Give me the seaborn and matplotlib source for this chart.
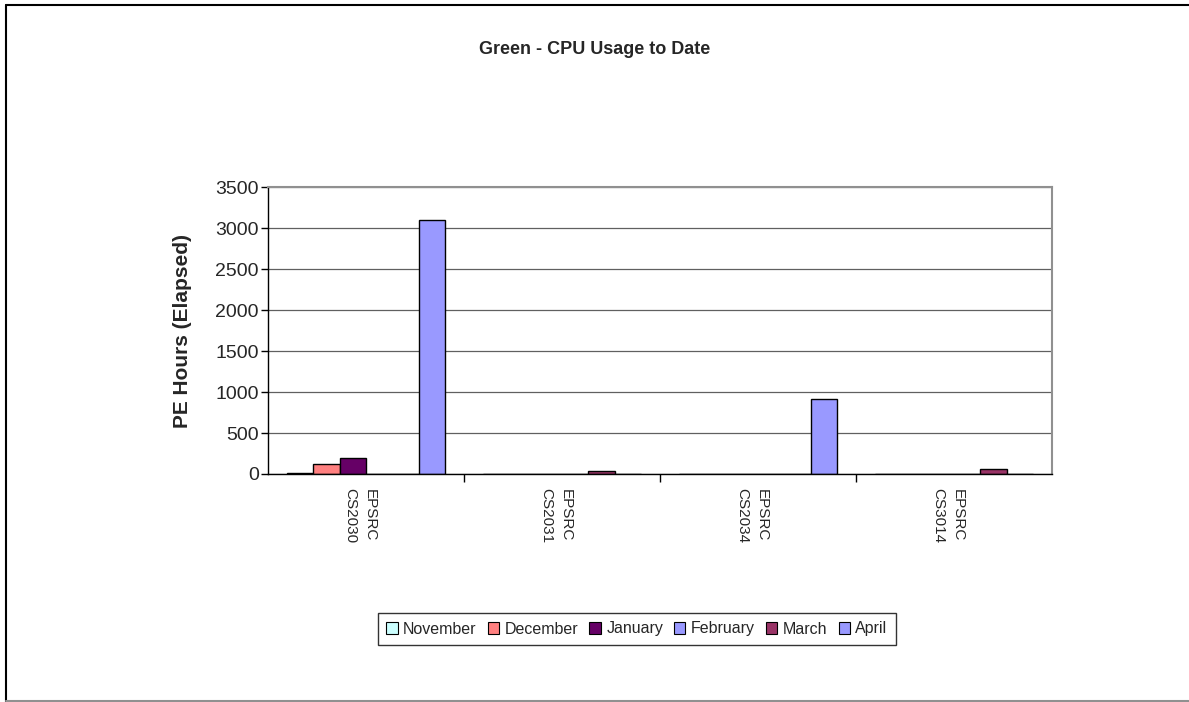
import matplotlib
matplotlib.use("Agg")
import matplotlib.pyplot as plt
import matplotlib.transforms as mtransforms
from matplotlib.lines import Line2D
from matplotlib.patches import Patch
import seaborn as sns
import pandas as pd

# Projects and monthly PE-hour totals
projects = ["EPSRC\nCS2030", "EPSRC\nCS2031", "EPSRC\nCS2034", "EPSRC\nCS3014"]
months = ["November", "December", "January", "February", "March", "April"]
november = [15, 0, 0, 0]
december = [125, 0, 0, 0]
january = [195, 0, 0, 0]
february = [0, 0, 0, 0]
march = [0, 40, 0, 55]
april = [3100, 0, 910, 0]
month_colors = ["#CCFFFF", "#FF8080", "#660066", "#9999FF", "#993366", "#9999FF"]

series = [november, december, january, february, march, april]
rows = []
for month, vals in zip(months, series):
    for proj, v in zip(projects, vals):
        rows.append({"Project": proj, "Month": month, "Hours": v})
df = pd.DataFrame(rows)

sns.set_style("white")
plt.rcParams["font.family"] = ["Liberation Sans", "DejaVu Sans"]

fig = plt.figure(figsize=(11.89, 7.02), dpi=100)
ax = fig.add_axes([268 / 1189, 1 - 474 / 702, (1052 - 268) / 1189, (474 - 187) / 702])

palette = dict(zip(months, month_colors))
sns.barplot(data=df, x="Project", y="Hours", hue="Month", order=projects,
            hue_order=months, palette=palette, width=0.81, edgecolor="black",
            linewidth=1.0, saturation=1, errorbar=None, ax=ax, legend=False)

ax.set_xlim(-0.5, len(projects) - 0.5)
ax.set_ylim(0, 3500)
ax.set_yticks(range(0, 3501, 500))
ax.yaxis.grid(True, color="#606060", linewidth=0.9)
ax.set_axisbelow(True)

for side in ["left", "bottom"]:
    ax.spines[side].set_color("black")
    ax.spines[side].set_linewidth(1.0)
for side in ["top", "right"]:
    ax.spines[side].set_color("#909090")
    ax.spines[side].set_linewidth(1.5)

ax.tick_params(axis="y", which="major", left=True, length=5, width=1,
               color="black", labelsize=14, pad=1.5)
ax.set_xticks(range(len(projects)))
ax.set_xticklabels(projects, rotation=270, fontsize=11, linespacing=1.45,
                   va="top", ha="center")
ax.tick_params(axis="x", which="major", length=0, pad=10)
shift = mtransforms.ScaledTranslation(-6 / 100, 0, fig.dpi_scale_trans)
for lbl in ax.get_xticklabels():
    lbl.set_transform(lbl.get_transform() + shift)
ax.set_xticks([0.5, 1.5, 2.5], minor=True)
ax.tick_params(axis="x", which="minor", bottom=True, length=6, width=1,
               color="black")

ax.set_xlabel("")
ax.set_ylabel("PE Hours (Elapsed)", fontsize=15, fontweight="bold", labelpad=17)

fig.text(595 / 1189, 1 - 50 / 702, "Green - CPU Usage to Date", ha="center",
         va="center", fontsize=13, fontweight="bold")

handles = [Patch(facecolor=c, edgecolor="black", linewidth=0.8) for c in month_colors]
leg = fig.legend(handles, months, loc="center", bbox_to_anchor=(637 / 1189, 1 - 629 / 702),
                 ncol=6, fontsize=11.5, frameon=True, fancybox=False,
                 handlelength=0.7, handleheight=0.7, handletextpad=0.35,
                 columnspacing=0.7, borderpad=0.55, edgecolor="black")
leg.get_frame().set_linewidth(1.0)

# Outer chart frame
fig.add_artist(Line2D([6 / 1189, 6 / 1189], [1 - 5 / 702, 0], color="black",
                      linewidth=1.5, transform=fig.transFigure))
fig.add_artist(Line2D([6 / 1189, 1], [1 - 5 / 702, 1 - 5 / 702], color="black",
                      linewidth=1.5, transform=fig.transFigure))
fig.add_artist(Line2D([6 / 1189, 1], [1.2 / 702, 1.2 / 702], color="#909090",
                      linewidth=1.5, transform=fig.transFigure))

fig.savefig("out.png", dpi=100)
